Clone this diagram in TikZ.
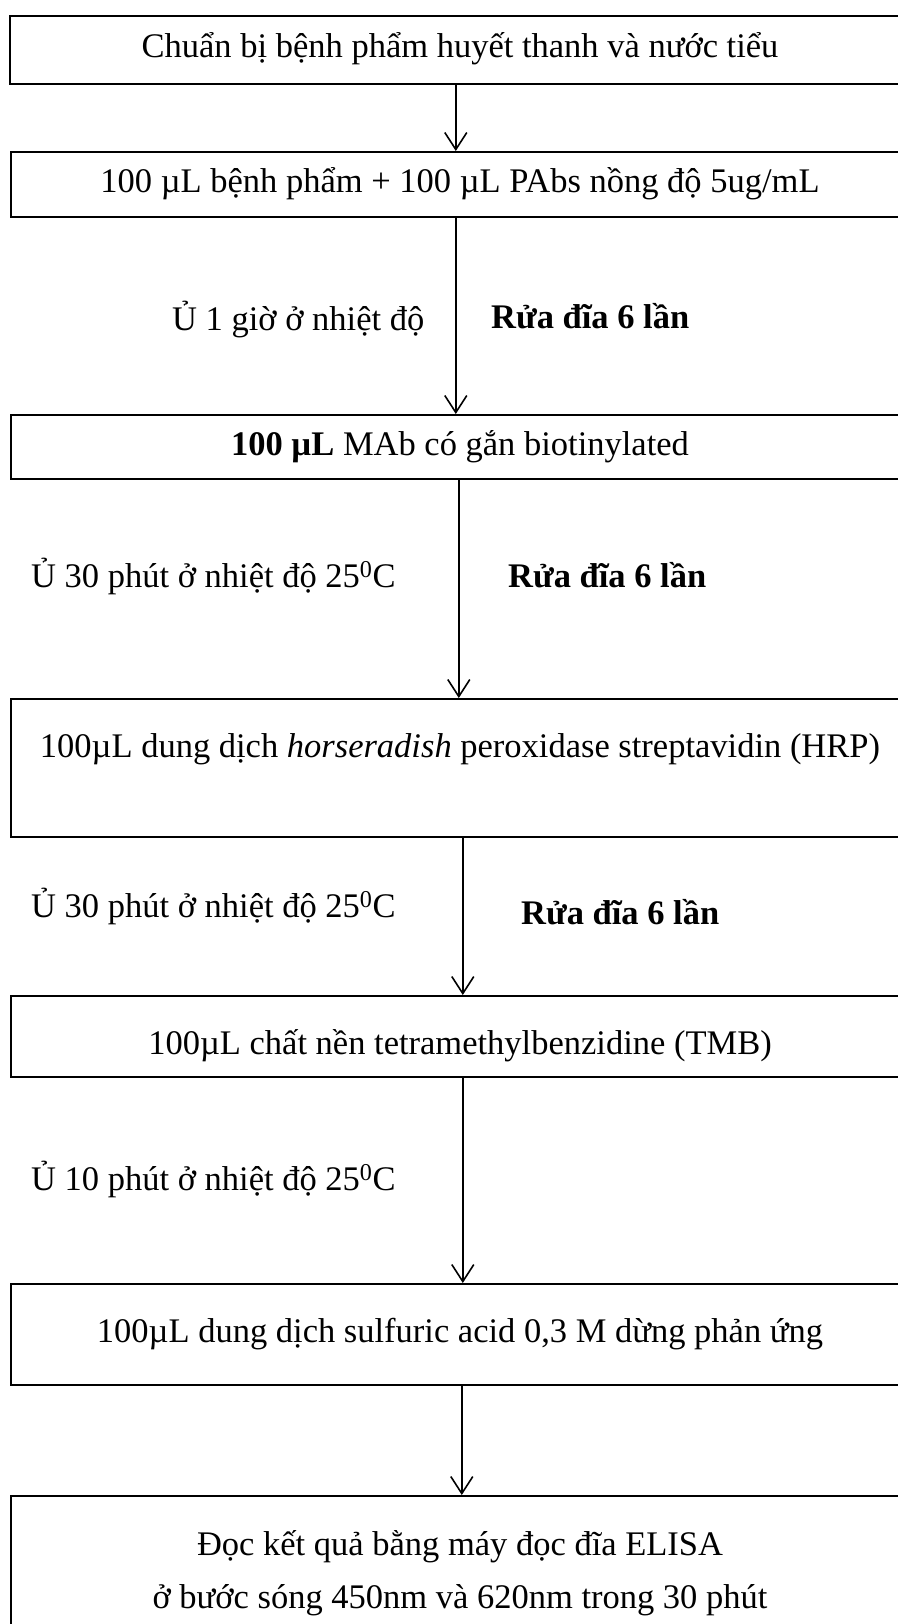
\documentclass[tikz,border=0pt]{standalone}
\usepackage{fontspec}
\setmainfont{Liberation Serif}
\usetikzlibrary{arrows.meta}
\begin{document}
\begin{tikzpicture}[x=1pt,y=-1pt,
  box/.style={draw, line width=1.6pt, rectangle, inner sep=0pt, anchor=north west, minimum width=901pt},
  txt/.style={font=\fontsize{34.5}{41}\selectfont, anchor=base, inner sep=0pt},
  lbl/.style={font=\fontsize{34.5}{41}\selectfont, anchor=base west, inner sep=0pt},
  arr/.style={line width=1.6pt, -{Straight Barb[length=17pt,width=22pt]}}]
\useasboundingbox (0,0) rectangle (897,1624);
% boxes
\node[box, minimum height=68pt] (b1) at (9,15) {};
\node[box, minimum height=65pt] (b2) at (10,151) {};
\node[box, minimum height=64pt] (b3) at (10,414) {};
\node[box, minimum height=138pt] (b4) at (10,698) {};
\node[box, minimum height=81pt] (b5) at (10,995) {};
\node[box, minimum height=101pt] (b6) at (10,1283) {};
\node[box, minimum height=160pt] (b7) at (10,1495) {};
% box texts
\node[txt] (t1) at (460,58) {Chuẩn bị bệnh phẩm huyết thanh và nước tiểu};
\node[txt] (t2) at (460,193) {100 µL bệnh phẩm + 100 µL PAbs nồng độ 5ug/mL};
\node[txt] (t3) at (460,455) {\textbf{100 µL} MAb có gắn biotinylated};
\node[txt] (t4) at (460,757) {100µL dung dịch \textit{horseradish} peroxidase streptavidin (HRP)};
\node[txt] (t5) at (460,1054) {100µL chất nền tetramethylbenzidine (TMB)};
\node[txt] (t6) at (460,1342) {100µL dung dịch sulfuric acid 0,3 M dừng phản ứng};
\node[txt] (t7a) at (460,1555) {Đọc kết quả bằng máy đọc đĩa ELISA};
\node[txt] (t7b) at (460,1608) {ở bước sóng 450nm và 620nm trong 30 phút};
% labels
\node[lbl] (l1) at (172,330) {Ủ 1 giờ ở nhiệt độ};
\node[lbl] (w1) at (491,328) {\textbf{Rửa đĩa 6 lần}};
\node[lbl] (l2) at (31,587) {Ủ 30 phút ở nhiệt độ 25\textsuperscript{0}C};
\node[lbl] (w2) at (508,587) {\textbf{Rửa đĩa 6 lần}};
\node[lbl] (l3) at (31,917) {Ủ 30 phút ở nhiệt độ 25\textsuperscript{0}C};
\node[lbl] (w3) at (521,924) {\textbf{Rửa đĩa 6 lần}};
\node[lbl] (l4) at (31,1190) {Ủ 10 phút ở nhiệt độ 25\textsuperscript{0}C};
% arrows
\draw[arr] ([xshift=-4.5pt]b1.south) -- ([xshift=-5.5pt]b2.north);
\draw[arr] ([xshift=-5.5pt]b2.south) -- ([xshift=-5.5pt]b3.north);
\draw[arr] ([xshift=-2.5pt]b3.south) -- ([xshift=-2.5pt]b4.north);
\draw[arr] ([xshift=1.5pt]b4.south) -- ([xshift=1.5pt]b5.north);
\draw[arr] ([xshift=1.5pt]b5.south) -- ([xshift=1.5pt]b6.north);
\draw[arr] ([xshift=0.5pt]b6.south) -- ([xshift=0.5pt]b7.north);
\end{tikzpicture}
\end{document}
